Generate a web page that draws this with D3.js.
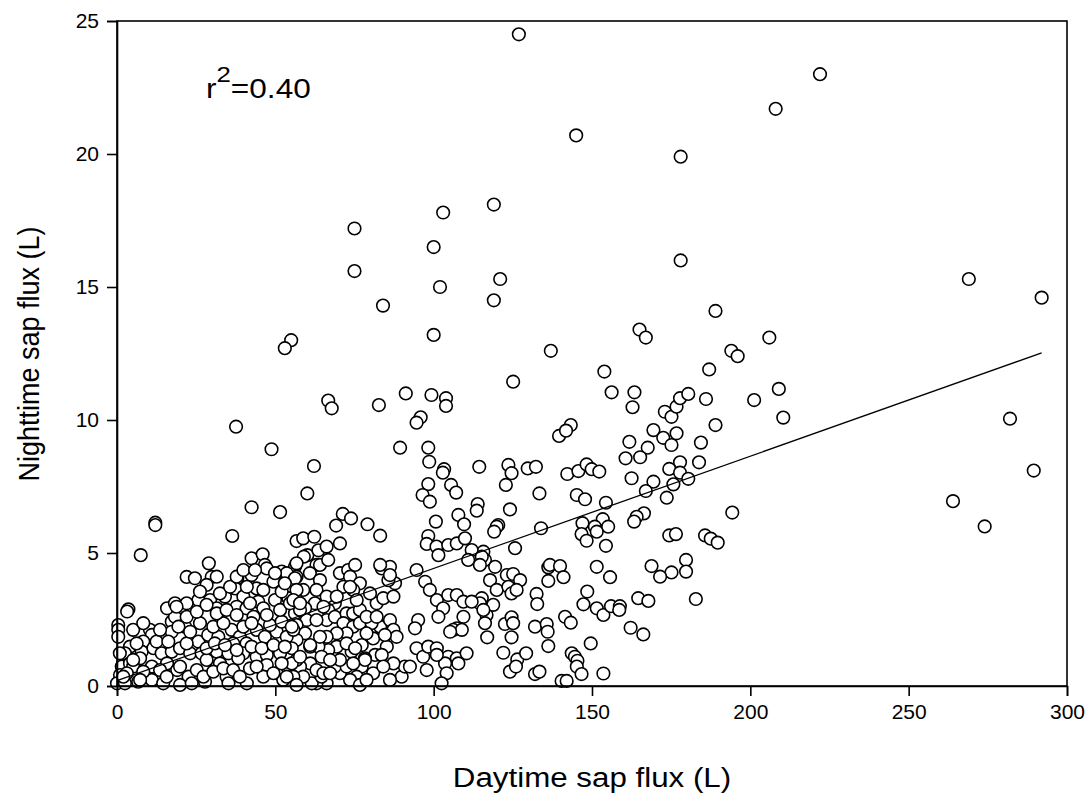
<!DOCTYPE html>
<html><head><meta charset="utf-8">
<script src="https://cdn.jsdelivr.net/npm/d3@7"></script>
<style>body{margin:0;background:#fff}svg{display:block}text{font-family:"Liberation Sans",Arial,sans-serif;fill:#000}</style>
</head><body><svg id="c" width="1092" height="800"></svg>
<script>
const xTicks=[0,50,100,150,200,250,300];
const yTicks=[0,5,10,15,20,25];
const xTitle="Daytime sap flux (L)";
const yTitle="Nighttime sap flux (L)";
const fitIntercept=0.2, fitSlope=0.0422, fitRange=[0,292];
const r2Label="0.40";
// daytime (x) and nighttime (y) sap flux pairs
const daytime=[126.9,222,208,145,178,119,103,75,100,178,75,121,269,102,292,119,84,189,100,165,167,206,55,53,137,194,196,187,264,274,289.5,282,
37.6,48.8,42.5,51.5,12.1,12.1,36.4,62.2,60.1,7.5,42.5,46,29,56.7,58.8,62.3,60.1,59,46.7,47.3,52,56.2,63.6,63,22,24.6,29.9,38,42.5,
66.7,67.8,82.7,91.2,99.3,103.9,103.9,95.9,94.6,89.4,98.3,98.6,103.3,102.9,114.4,98.3,105.5,107.1,96.5,98.8,113.9,113.6,71.3,73.9,69.2,79.1,100.7,107.8,109.6,
125.1,153.9,156.2,163.4,162.8,173,175.1,176.7,177.8,169.4,172.5,175.1,176.7,143.3,139.6,141.8,161.8,167.6,165.2,160.6,123.6,124.6,122.8,129.7,132.3,142.2,145.7,148.3,149.9,152.3,162.5,169.4,167,173.6,133.4,145.2,147.8,154.4,124.1,166.4,164.1,163.3,147,153.4,155.1,150.9,120.4,133.9,
209,201.2,210.4,186,180.4,189,184.4,183.8,177.8,174.4,177.8,180.4,175.7,194.3,174.4,176.5,185.7,187.5,189.7,179.7,179.7,175.1,171.5,182.8,
119.9,119.1,125.7,146.7,151.5,148.3,154.4,151.5,155.7,168.8,148.5,147.3,151.5,153.6,156,158.8,158.6,164.6,167.8,162.2,166.2,149.6,143.6,144.6,145.4,145.2,141.5,143.3,146.7,153.6,140.4,142,136.2,136.7,139.9,141,136.2,132.5,132.7,132,135.7,136,136.2,122,126.4,129.2,124.1,126,132,133.4,115.2,114.6,116.7,116.9,122.5,124.6,125.1,124.6,115.7,116.2,119.4,117.8,119.9,123.1,125.1,127.3,123.6,124.6,126.2,118.8,116.2,
83.1,98.3,97.8,100.9,101.5,104.6,107.3,109.9,112,115.2,110.9,114.6,94.6,97.3,98.8,101,103,101.5,104.6,107.3,109.4,109.4,107.3,106.2,108.9,105.2,112,115.7,95.1,94.1,94.6,96.7,98.3,101,104.6,107.3,110.4,107.8,103.6,101,97.8,104.1,102.5,89.9,90.9,87.3,92.5,85.2,80.9,83.1,86.2,87.3,88.3,84.6,81.5,78.3,83.6,77.3,74.1,77.3,78.3,75.7,73.6,76.7,70.4,68.8,66.2,63,61.5,64.6,72.5,74.6,82,84.1,87.3,87.8,85.7,83.6,86.2,86.2,70.4,73,75.2,73.6,76.7,74.6,71.5,73.6,68.8,66.7,66.2,68.8,72.5,74.6,76.7,71.5,74.6,76.7,80.4,78.8,72.5,69.4,66.2,69.4,72.5,75.2,66.7,63.6,61,64.6,70.4,67.3,61,57.8,58.8,63,65.2,66.2,70.4,64.1,66.7,56.7,60.9,64.1,58.8,63,66.2,56.2,62.5,59.4,56.2,59.9,63,56.7,59.4,64.1,56.7,61,83.1,
44.1,49.4,53.6,56.7,56.2,49.9,54.1,56.7,57.8,37.3,39.9,34.1,29.4,25.7,31.5,37.8,40.9,44.6,46.2,43.1,17.3,21.5,17.3,10.4,11,0.4,0.4,0.4,25.7,28.8,32,36.2,38.8,36.7,40.9,44.1,46.7,50.4,53.6,55.7,8.3,4.1,7.8,2.5,11.5,14.1,17.3,19.9,23.1,26.7,31.5,35.2,39.9,44.1,47.3,51.5,55.2,56.7,1.5,0.95,4.1,7.3,11,15.8,19,22.6,28.3,32.5,38.3,42,47.3,50.4,55.2,55.7,0,2.5,6.7,11,14.6,19.9,23.6,27.8,34.6,35.2,41,46.2,52.5,56.7,3.6,3.2,18.3,22,15.8,18.3,22,28.3,
5.1,8.3,13.6,15.7,19.9,25.2,27.3,30.4,33.6,36.7,38.8,44.1,49.4,52,53.6,
6.2,12.5,16.2,22,28.3,30.9,34.1,37.8,42.5,45.7,49.4,53,
5.1,8.3,13.6,19.4,23.1,26.2,30.4,33.6,39.9,42.5,48.3,52,55.2,
18.8,25.2,28.3,31.5,34.6,37.8,42,47.3,51.5,54.6,
26.2,32.5,35.7,41,46.2,52,55.7,
31.5,37.8,39.9,43.6,49.9,53,
0.9,5.1,3.1,7.3,2,
57.8,65.2,69.4,75.7,79.9,78.8,82,57.8,67.3,80.9,84.1,86.2,78.8];
const nighttime=[24.5,23.0,21.7,20.7,19.9,18.1,17.8,17.2,16.5,16.0,15.6,15.3,15.3,15.0,14.6,14.5,14.3,14.1,13.2,13.4,13.1,13.1,13.0,12.7,12.6,12.6,12.4,11.9,6.95,6.0,8.1,10.05,
9.75,8.9,6.72,6.54,6.14,6.05,5.64,8.27,7.24,4.92,4.8,4.95,4.61,5.45,5.55,5.61,4.92,4.86,4.55,4.42,4.3,4.48,5.1,4.55,4.1,4.05,4.1,4.05,4.17,
10.73,10.44,10.56,11.0,10.94,10.82,10.53,10.1,9.9,8.96,8.96,8.43,8.15,8.02,8.24,7.59,7.56,7.27,7.18,6.93,6.84,6.59,6.47,6.3,6.03,6.08,6.18,6.43,6.08,
11.44,11.82,11.04,11.04,10.48,10.31,10.12,10.5,10.82,9.62,9.33,9.06,9.5,9.81,9.4,9.6,9.18,8.96,8.6,8.56,8.31,8.0,7.56,8.18,8.24,7.97,8.08,8.33,8.15,8.06,7.81,7.68,7.33,7.08,7.24,7.18,7.02,6.89,6.64,6.49,6.36,6.18,6.12,6.27,5.99,5.99,6.05,5.93,
11.17,10.75,10.09,10.79,10.98,9.81,9.15,8.41,8.41,8.16,8.02,7.79,7.58,6.52,5.66,5.71,5.66,5.54,5.39,4.74,4.3,4.27,4.11,3.27,
5.99,5.8,5.18,5.71,5.8,5.46,5.27,4.48,4.09,4.51,3.55,3.07,2.92,2.67,3.0,3.0,2.86,3.3,3.2,2.19,1.94,1.6,1.23,1.1,0.95,0.73,2.6,2.38,0.45,0.47,0.19,0.19,4.46,4.55,4.51,4.09,3.95,3.46,3.08,2.23,2.33,2.04,1.5,1.25,1.0,1.23,0.54,0.73,0.45,0.54,3.3,3.11,2.67,1.83,2.33,2.58,2.36,1.83,5.05,4.74,4.48,3.98,3.61,4.17,4.21,3.98,3.73,3.48,3.61,3.05,2.36,
5.65,5.64,5.34,5.24,4.92,5.3,5.36,5.55,5.11,4.86,4.74,4.55,4.36,3.92,3.61,3.23,2.92,2.6,3.42,3.42,3.17,2.6,2.17,2.11,2.11,2.04,3.17,2.86,2.48,2.17,1.42,1.1,1.48,1.42,1.1,1.04,1.23,0.85,0.85,1.17,0.6,0.48,0.1,0.35,0.73,0.85,0.73,1.48,1.79,2.23,2.48,2.11,1.85,1.92,1.17,1.04,1.17,1.54,1.29,0.73,0.98,0.35,0.23,0.04,0.48,0.73,0.1,0.1,0.1,0.35,0.73,0.85,3.11,3.3,3.36,3.86,3.98,4.42,4.48,4.17,4.24,4.36,4.55,4.11,3.86,3.61,3.73,3.73,3.11,2.86,2.48,2.6,2.73,2.73,2.86,2.36,2.23,2.36,2.36,1.98,1.98,1.98,1.85,1.48,1.6,1.42,1.35,1.48,1.48,1.1,0.98,0.98,0.85,0.73,0.35,0.6,0.48,5.24,5.36,4.55,4.74,4.11,4.24,3.98,3.61,3.61,3.36,3.36,3.11,2.92,2.73,2.48,2.48,2.29,1.98,1.85,1.73,1.54,4.55,
3.67,3.92,4.24,4.61,4.05,3.23,3.3,3.61,2.86,3.67,3.36,3.36,3.23,3.23,2.92,2.98,2.92,3.17,2.92,2.6,2.42,2.23,2.04,2.11,1.92,2.29,2.11,1.85,1.67,1.92,1.85,2.11,1.85,1.6,1.6,2.11,1.85,2.04,1.85,2.11,1.67,1.48,1.29,1.23,1.42,1.23,1.29,1.42,1.23,1.23,1.29,1.23,1.23,1.1,1.17,1.23,1.42,0.98,0.73,0.41,0.85,1.04,0.73,0.85,0.6,0.35,0.98,0.85,1.04,0.66,0.79,0.48,0.85,0.35,0.1,0.1,0.16,0.23,0.1,0.04,0.1,0.16,0.35,0.1,0.1,0.35,0.23,0.04,2.88,2.8,2.6,2.6,2.92,3.11,3.11,3.8,
0.73,0.54,0.6,0.35,0.73,0.6,0.35,0.54,0.66,0.6,0.35,0.73,0.48,0.85,0.35,
1.6,1.67,1.67,1.6,1.42,1.6,1.54,1.35,1.48,1.42,1.54,1.48,
2.11,2.36,2.11,2.23,2.04,2.36,2.23,2.36,2.23,2.36,2.29,2.42,2.23,
2.98,2.79,3.05,2.73,2.86,2.67,3.11,2.67,2.86,3.11,
3.55,3.48,3.73,3.73,3.61,3.55,3.23,
4.11,4.11,4.36,4.36,4.24,3.86,
1.23,0.98,0.48,0.23,0.35,
3.11,2.98,3.36,3.23,3.48,2.6,2.6,1.1,0.48,0.48,0.73,0.23,0.23];

const svg=d3.select("#c");
const x=d3.scaleLinear().domain([0,300]).range([117,1067]);
const y=d3.scaleLinear().domain([0,25]).range([686,21]);
const pts=daytime.map((d,i)=>({x:d,y:nighttime[i]}));

svg.append("g").selectAll("circle").data(pts).join("circle")
  .attr("cx",d=>x(d.x)).attr("cy",d=>y(d.y)).attr("r",6.3)
  .attr("fill","#fff").attr("stroke","#000").attr("stroke-width",1.6);

svg.append("line").attr("x1",x(fitRange[0])).attr("y1",y(fitIntercept+fitSlope*fitRange[0]))
  .attr("x2",x(fitRange[1])).attr("y2",y(fitIntercept+fitSlope*fitRange[1]))
  .attr("stroke","#000").attr("stroke-width",1.3);

svg.append("rect").attr("x",117).attr("y",21).attr("width",950).attr("height",665)
  .attr("fill","none").attr("stroke","#000").attr("stroke-width",1.6);

const xa=svg.append("g").attr("transform","translate(0,686)")
  .call(d3.axisBottom(x).tickValues(xTicks).tickSize(10).tickPadding(8).tickFormat(d3.format("d")));
const ya=svg.append("g").attr("transform","translate(117,0)")
  .call(d3.axisLeft(y).tickValues(yTicks).tickSize(10).tickPadding(8).tickFormat(d3.format("d")));
[xa,ya].forEach(a=>{a.select(".domain").attr("stroke-width",1.6);
  a.selectAll(".tick line").attr("stroke-width",1.6);
  a.selectAll("text").attr("font-size",21).attr("font-family","Liberation Sans, Arial, sans-serif").attr("fill","#000");});

svg.append("text").attr("transform","translate(592,787) scale(1.16,1)").attr("text-anchor","middle").attr("font-size",27).text(xTitle);
svg.append("text").attr("transform","translate(39,354) scale(1.12,1) rotate(-90)").attr("text-anchor","middle").attr("font-size",27).text(yTitle);

const t=svg.append("text").attr("transform","translate(206,98) scale(1.17,1)").attr("font-size",27);
t.append("tspan").text("r");
t.append("tspan").attr("dy",-16.5).attr("font-size",22).text("2");
t.append("tspan").attr("dy",16.5).text("="+r2Label);
</script></body></html>
